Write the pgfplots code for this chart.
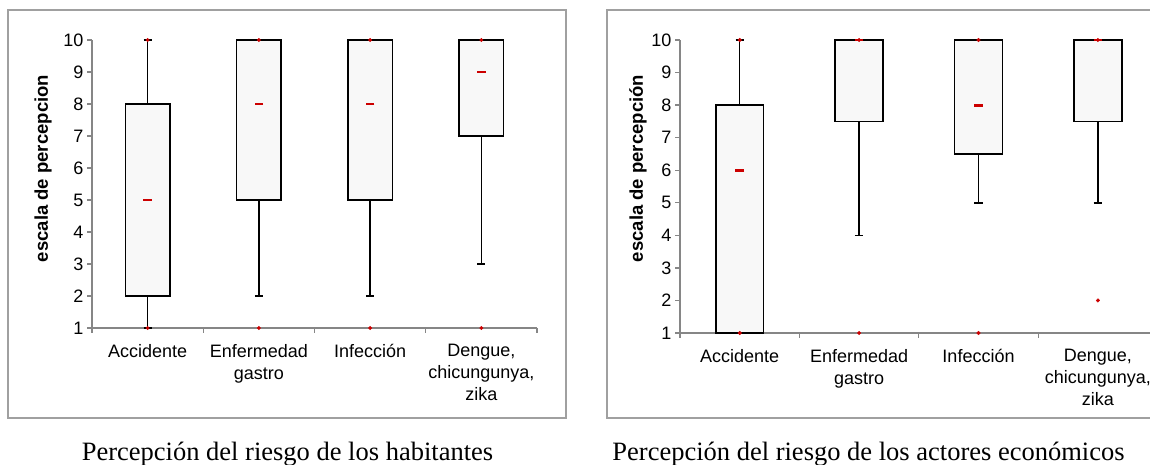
\documentclass[border=0pt]{standalone}
\usepackage{fontspec}
\setmainfont{Liberation Serif}
\setsansfont{Liberation Sans}
\usepackage{pgfplots}
\usepgfplotslibrary{statistics}
\pgfplotsset{compat=1.18}
\definecolor{framegray}{RGB}{160,160,160}
\definecolor{axisgray}{RGB}{134,134,134}
\definecolor{boxfill}{RGB}{248,248,248}
\definecolor{markred}{RGB}{204,0,0}
\newcommand\axisfont{\fontsize{18}{22}\selectfont\sffamily}

\pgfplotsset{
  riskbox/.style={
    scale only axis,
    xmin=0.5, xmax=4.5, ymin=1, ymax=10,
    axis x line=bottom, axis y line=left,
    axis line style={-, draw=axisgray, line width=1.3pt},
    ytick={1,...,10},
    xtick={1,2,3,4},
    minor xtick={0.5,1.5,2.5,3.5,4.5},
    major x tick style={draw=none},
    minor x tick style={draw=axisgray, line width=1.3pt},
    y tick style={draw=axisgray, line width=1.3pt},
    tick align=outside,
    major tick length=5pt,
    minor tick length=5pt,
    /pgf/number format/assume math mode=true,
    tick label style={font=\axisfont},
    x tick label style={align=center, yshift=-8pt},
    clip=false,
    boxplot/draw direction=y,
    boxplot/box extend=0.4,
    boxplot/whisker extend=0.07,
    boxplot/every box/.style={draw=black, fill=boxfill, line width=1.7pt},
    boxplot/every whisker/.style={draw=black, line width=1.5pt},
    boxplot/every median/.style={draw=none},
  },
  medmark/.style={only marks, mark=-, mark size=4.3pt, color=markred,
    mark options={line width=2.8pt}},
  endmark/.style={only marks, mark=*, mark size=1.8pt, color=markred},
}

\begin{document}
\begin{tikzpicture}[x=1pt,y=1pt]
  \clip (0,0) rectangle (1150,465);
  \path (0,0) rectangle (1150,465);

  % frames
  \draw[framegray, line width=1.3pt] (8,47) rectangle (566,455);
  \draw[framegray, line width=1.3pt] (607,47) rectangle (1165,455);

  % habitantes
  \begin{axis}[riskbox, width=445pt, height=288pt,
      at={(92pt,137pt)}, anchor=south west,
      xticklabels={Accidente,{Enfermedad\\gastro},Infección,{Dengue,\\chicungunya,\\zika}}]
    \addplot[boxplot prepared={draw position=1, lower whisker=1, lower quartile=2,
      median=5, upper quartile=8, upper whisker=10}] coordinates {};
    \addplot[boxplot prepared={draw position=2, lower whisker=2, lower quartile=5,
      median=8, upper quartile=10, upper whisker=10}] coordinates {};
    \addplot[boxplot prepared={draw position=3, lower whisker=2, lower quartile=5,
      median=8, upper quartile=10, upper whisker=10}] coordinates {};
    \addplot[boxplot prepared={draw position=4, lower whisker=3, lower quartile=7,
      median=9, upper quartile=10, upper whisker=10}] coordinates {};
    \addplot[medmark] coordinates {(1,5) (2,8) (3,8) (4,9)};
    \addplot[endmark] coordinates {(1,10) (1,1) (2,10) (2,1) (3,10) (3,1) (4,10) (4,1)};
  \end{axis}

  % actores economicos
  \begin{axis}[riskbox, width=477.6pt, height=293pt,
      at={(680pt,132pt)}, anchor=south west,
      xticklabels={Accidente,{Enfermedad\\gastro},Infección,{Dengue,\\chicungunya,\\zika}}]
    \addplot[boxplot prepared={draw position=1, lower whisker=1, lower quartile=1,
      median=6, upper quartile=8, upper whisker=10}] coordinates {};
    \addplot[boxplot prepared={draw position=2, lower whisker=4, lower quartile=7.5,
      median=10, upper quartile=10, upper whisker=10}] coordinates {};
    \addplot[boxplot prepared={draw position=3, lower whisker=5, lower quartile=6.5,
      median=8, upper quartile=10, upper whisker=10}] coordinates {};
    \addplot[boxplot prepared={draw position=4, lower whisker=5, lower quartile=7.5,
      median=10, upper quartile=10, upper whisker=10}] coordinates {};
    \addplot[medmark] coordinates {(1,6) (2,10) (3,8) (4,10)};
    \addplot[endmark] coordinates {(1,10) (1,1) (2,10) (2,1) (3,10) (3,1) (4,10) (4,2)};
  \end{axis}

  % y labels
  \node[rotate=90, font=\fontsize{18.5}{22}\selectfont\sffamily\bfseries] at (43,296.5) {escala de percepcion};
  \node[rotate=90, font=\fontsize{18.5}{22}\selectfont\sffamily\bfseries] at (638,296.5) {escala de percepción};

  % captions
  \node[anchor=base, font=\fontsize{26.5}{30}\selectfont] at (287.5,4) {Percepción del riesgo de los habitantes};
  \node[anchor=base, font=\fontsize{26.5}{30}\selectfont] at (868.5,4) {Percepción del riesgo de los actores económicos};
\end{tikzpicture}
\end{document}
